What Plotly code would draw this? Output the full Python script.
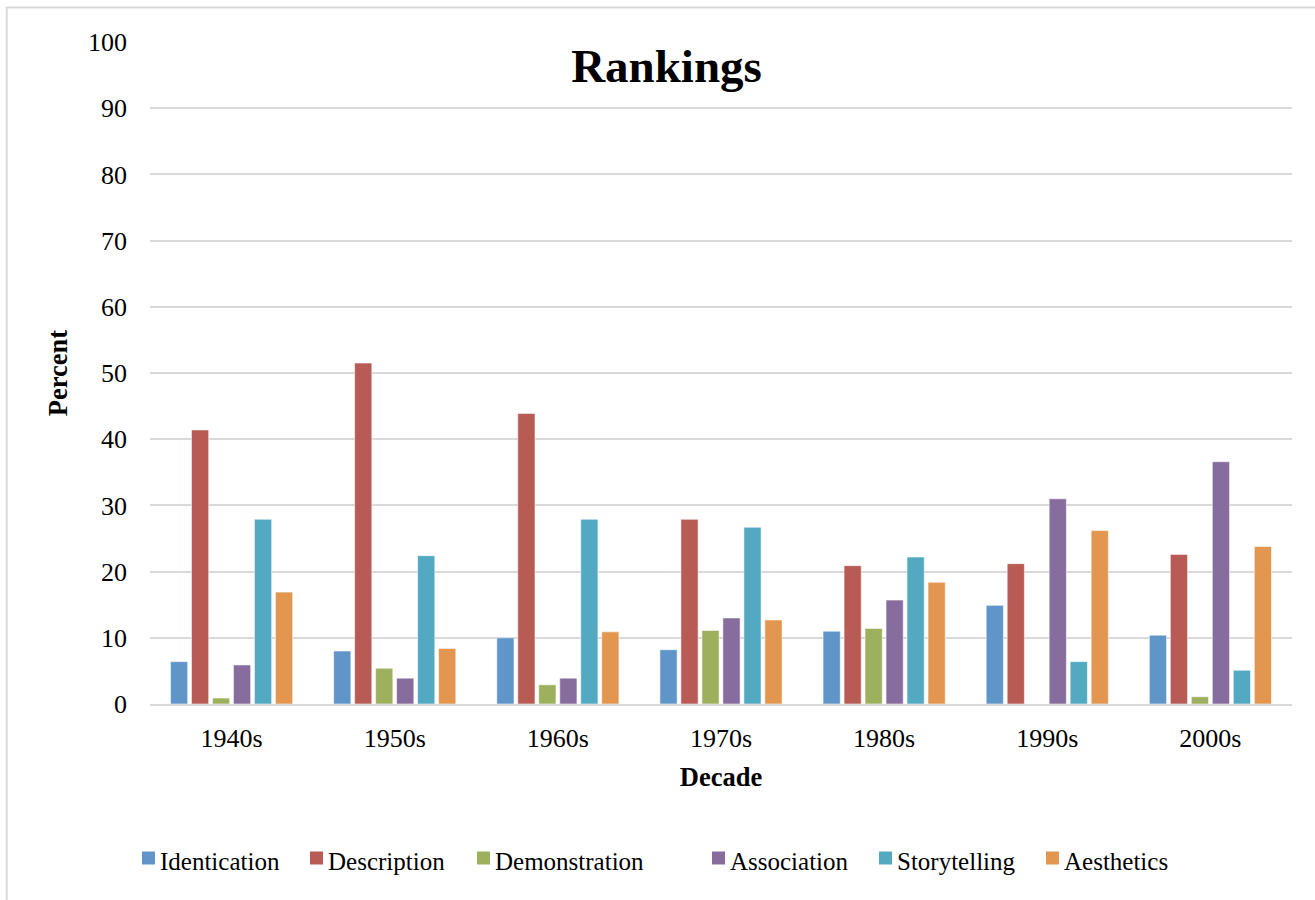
import plotly.graph_objects as go

# Decades on the category axis
decades = ["1940s", "1950s", "1960s", "1970s", "1980s", "1990s", "2000s"]

# Percent of rankings per category and decade
identication = [6.4, 8.0, 10.0, 8.2, 11.0, 14.9, 10.4]
description = [41.4, 51.5, 43.9, 27.9, 20.9, 21.2, 22.6]
demonstration = [0.9, 5.4, 2.9, 11.1, 11.4, 0.0, 1.1]
association = [5.9, 3.9, 3.9, 13.0, 15.7, 31.0, 36.6]
storytelling = [27.9, 22.4, 27.9, 26.7, 22.2, 6.4, 5.1]
aesthetics = [16.9, 8.4, 10.9, 12.7, 18.4, 26.2, 23.8]

series = [
    ("Identication", identication, "#6095C9"),
    ("Description", description, "#B95B55"),
    ("Demonstration", demonstration, "#9DB05E"),
    ("Association", association, "#866D9E"),
    ("Storytelling", storytelling, "#52A9C1"),
    ("Aesthetics", aesthetics, "#E3964F"),
]

FONT = "Liberation Serif, Times New Roman, serif"
GRID = "#D9D9D9"

W, H = 1315, 900
L, R, T, B = 150, 23, 42, 196
pw, ph = W - L - R, H - T - B


def px_x(x):
    return (x - L) / pw


def px_y(y):
    return (H - B - y) / ph


fig = go.Figure()
for name, vals, color in series:
    fig.add_trace(go.Bar(
        name=name, x=decades, y=vals, showlegend=False,
        marker=dict(color=color, line=dict(color="rgba(255,255,255,0.55)", width=1)),
    ))

# Legend row below the axis: a colour swatch followed by the series name
legend_left = [142, 310, 477, 712, 879, 1046]
swatch = 13
shapes = [dict(
    type="rect", xref="paper", yref="paper",
    x0=px_x(6.7), x1=px_x(1330), y0=px_y(915), y1=px_y(7.5),
    line=dict(color=GRID, width=2), fillcolor="rgba(0,0,0,0)", layer="below",
)]
annotations = []
for (name, _, color), x in zip(series, legend_left):
    shapes.append(dict(
        type="rect", xref="paper", yref="paper",
        x0=px_x(x), x1=px_x(x + swatch), y0=px_y(864.5), y1=px_y(851.5),
        line=dict(width=0), fillcolor=color,
    ))
    annotations.append(dict(
        text=name, xref="paper", yref="paper", x=px_x(x + swatch + 3), y=px_y(861),
        xanchor="left", yanchor="middle", showarrow=False,
        font=dict(family=FONT, size=25, color="#000000"),
    ))

fig.update_layout(
    width=W, height=H,
    margin=dict(l=L, r=R, t=T, b=B, autoexpand=False),
    paper_bgcolor="white", plot_bgcolor="white",
    font=dict(family=FONT, size=26, color="#000000"),
    barmode="group", bargap=0.228, bargroupgap=0.18,
    showlegend=False,
    title=dict(
        text="Rankings", font=dict(family=FONT, size=47, weight="bold", color="#000000"),
        xref="container", yref="container", x=666.5 / W, y=1 - 66 / H,
        xanchor="center", yanchor="middle",
    ),
    xaxis=dict(
        showgrid=False, showline=True, linecolor=GRID, linewidth=2,
        ticks="", ticklabelstandoff=10,
        title=dict(text="Decade", font=dict(family=FONT, size=26.5, weight="bold"), standoff=15),
    ),
    yaxis=dict(
        range=[0, 100], dtick=10, showgrid=True, gridcolor=GRID, gridwidth=2,
        zeroline=False, showline=False, ticks="", ticklabelstandoff=22,
        title=dict(text="Percent", font=dict(family=FONT, size=26.5, weight="bold"), standoff=12),
    ),
    shapes=shapes,
    annotations=annotations,
)

fig.write_html("out.html")
